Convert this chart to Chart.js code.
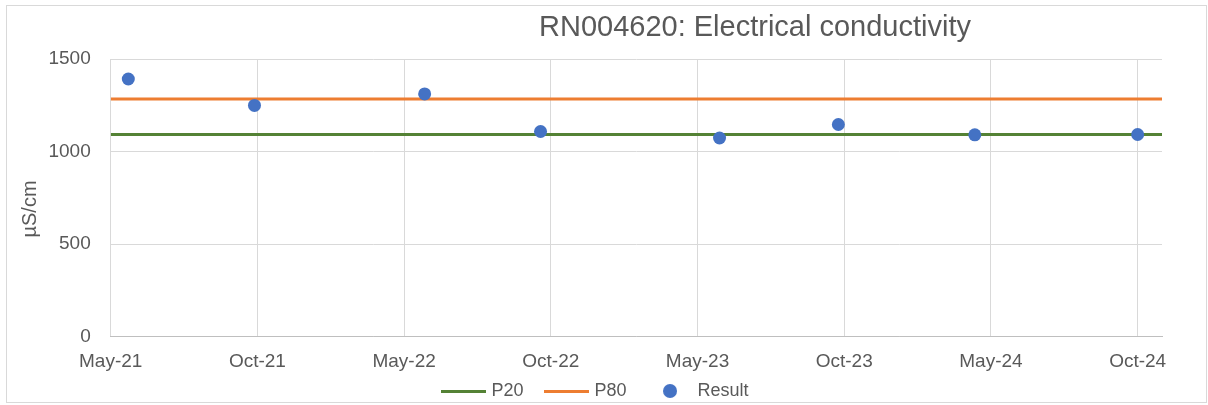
<!DOCTYPE html>
<html>
<head>
<meta charset="utf-8">
<script src="https://cdn.jsdelivr.net/npm/chart.js@4"></script>
<style>
  body { margin: 0; background: #fff; }
  canvas { display: block; }
</style>
</head>
<body>
<canvas id="chart" width="1208" height="405"></canvas>
<script>
// axis tick labels (equally spaced on the date axis)
const tickLabels = ['May-21', 'Oct-21', 'May-22', 'Oct-22', 'May-23', 'Oct-23', 'May-24', 'Oct-24'];
// sample positions, in tick units along the date axis
const samplePos = [0.12, 0.98, 2.14, 2.93, 4.15, 4.96, 5.89, 7.0];
const resultValues = [1392, 1249, 1311, 1108, 1073, 1146, 1090, 1092];
const p20Value = 1092;
const p80Value = 1284;
const xEnd = 7.166;
const yTicks = [0, 500, 1000, 1500];
const chartTitle = 'RN004620: Electrical conductivity';
const yTitle = 'µS/cm';

const textColor = '#595959';
const gridColor = '#D9D9D9';
const fontFamily = '"Liberation Sans", Arial, sans-serif';

// little icons for the legend
function lineIcon(color) {
    const c = document.createElement('canvas');
    c.width = 45; c.height = 3;
    const g = c.getContext('2d');
    g.fillStyle = color;
    g.fillRect(0, 0, 45, 3);
    return c;
}
function dotIcon(color) {
    const c = document.createElement('canvas');
    c.width = 14; c.height = 14;
    const g = c.getContext('2d');
    g.fillStyle = color;
    g.beginPath();
    g.arc(7, 7, 7, 0, Math.PI * 2);
    g.fill();
    return c;
}

const colors = { p20: '#548235', p80: '#ED7D31', result: '#4472C4' };
const legendIcons = [lineIcon(colors.p20), lineIcon(colors.p80), dotIcon(colors.result)];

const framePlugin = {
    id: 'frame',
    afterLayout(chart) {
        // excel puts the legend a bit higher and more to the right
        const lg = chart.legend;
        const dy = 391 - (lg.top + 25 + 9);
        lg.top += dy; lg.bottom += dy;
        lg.left += 16; lg.right += 16;
    },
    beforeDraw(chart) {
        const ctx = chart.ctx;
        ctx.save();
        ctx.strokeStyle = gridColor;
        ctx.lineWidth = 1;
        ctx.strokeRect(6.5, 5.5, 1200, 397);
        ctx.restore();
    },
    afterDraw(chart) {
        const ctx = chart.ctx;
        ctx.save();
        ctx.fillStyle = textColor;
        ctx.font = '29px ' + fontFamily;
        ctx.textAlign = 'center';
        ctx.textBaseline = 'alphabetic';
        ctx.fillText(chartTitle, 755, 36);
        // axis title, centred on axis + labels like excel does
        ctx.font = '20px ' + fontFamily;
        ctx.textBaseline = 'middle';
        ctx.translate(30, 209);
        ctx.rotate(-Math.PI / 2);
        ctx.fillText(yTitle, 0, 0);
        ctx.restore();
    }
};

new Chart(document.getElementById('chart').getContext('2d'), {
    type: 'scatter',
    data: {
        datasets: [
            {
                label: 'P20',
                data: [{ x: 0, y: p20Value }, { x: xEnd, y: p20Value }],
                showLine: true,
                borderColor: colors.p20,
                backgroundColor: colors.p20,
                borderWidth: 3,
                pointRadius: 0,
                order: 1
            },
            {
                label: 'P80',
                data: [{ x: 0, y: p80Value }, { x: xEnd, y: p80Value }],
                showLine: true,
                borderColor: colors.p80,
                backgroundColor: colors.p80,
                borderWidth: 3,
                pointRadius: 0,
                order: 1
            },
            {
                label: 'Result',
                data: samplePos.map((x, i) => ({ x: x, y: resultValues[i] })),
                backgroundColor: colors.result,
                borderColor: colors.result,
                borderWidth: 0,
                pointRadius: 6.5,
                order: 0
            }
        ]
    },
    options: {
        responsive: false,
        animation: false,
        layout: { padding: { top: 59, left: 0, right: 46, bottom: -24.5 } },
        plugins: {
            title: { display: false },
            tooltip: { enabled: false },
            legend: {
                position: 'bottom',
                labels: {
                    usePointStyle: true,
                    pointStyleWidth: 37,
                    padding: 25,
                    color: textColor,
                    font: { family: fontFamily, size: 18 },
                    sort: (a, b) => a.datasetIndex - b.datasetIndex,
                    generateLabels(chart) {
                        const items = Chart.defaults.plugins.legend.labels.generateLabels(chart);
                        items.forEach(it => { it.pointStyle = legendIcons[it.datasetIndex]; });
                        return items;
                    }
                }
            }
        },
        scales: {
            x: {
                type: 'linear',
                min: 0,
                max: xEnd,
                afterFit: s => { s.height = 40; },
                afterBuildTicks: s => { s.ticks = tickLabels.map((_, i) => ({ value: i })); },
                ticks: {
                    padding: 14,
                    color: textColor,
                    font: { family: fontFamily, size: 19 },
                    maxRotation: 0,
                    autoSkip: false,
                    callback: v => tickLabels[v]
                },
                grid: { color: gridColor, drawTicks: false },
                border: { color: '#BFBFBF', width: 1 }
            },
            y: {
                min: 0,
                max: 1500,
                afterFit: s => { s.width = 110.7; },
                afterBuildTicks: s => { s.ticks = yTicks.map(v => ({ value: v })); },
                ticks: {
                    padding: 20,
                    color: textColor,
                    font: { family: fontFamily, size: 19 },
                    callback: v => String(v)
                },
                grid: { color: gridColor, drawTicks: false },
                border: { display: false },
                title: { display: false }
            }
        }
    },
    plugins: [framePlugin]
});
</script>
</body>
</html>
